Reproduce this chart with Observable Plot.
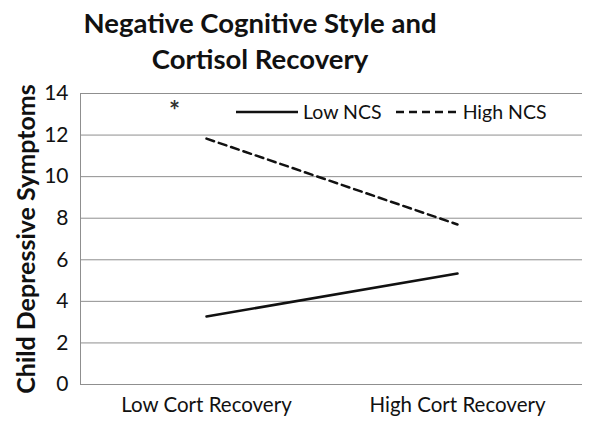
<!DOCTYPE html>
<html>
<head>
<meta charset="utf-8">
<script src="https://cdn.jsdelivr.net/npm/d3@7"></script>
<script src="https://cdn.jsdelivr.net/npm/@observablehq/plot@0.6"></script>
<style>
  body { margin: 0; background: #fff; font-family: Lato, "Open Sans", sans-serif; }
  #wrap { position: relative; width: 600px; height: 425px; }
  #title { position: absolute; left: 0; top: 5px; width: 520px; text-align: center; z-index: 2;
           font-weight: bold; font-size: 27.5px; line-height: 36px; color: #111; }
  #chart { position: absolute; left: 0; top: 70px; z-index: 1; }
  #legend { position: absolute; top: 100px; left: 236px; font-size: 19.5px; color: #111; z-index: 3;
            display: flex; align-items: center; white-space: nowrap; }
  #legend svg { margin-right: 5px; }
</style>
</head>
<body>
<div id="wrap">
  <div id="title">Negative Cognitive Style and<br>Cortisol Recovery</div>
  <div id="chart"></div>
  <div id="legend"></div>
</div>
<script>
const categories = ["Low Cort Recovery", "High Cort Recovery"];
const seriesNames = ["Low NCS", "High NCS"];
const lowNCS = [3.27, 5.34];
const highNCS = [11.83, 7.70];
const yTicks = [0, 2, 4, 6, 8, 10, 12, 14];
const yLabel = "Child Depressive Symptoms";
const annotations = [{category: "Low Cort Recovery", value: 13.35, text: "*"}];

const rows = [
  ...categories.map((c, i) => ({category: c, value: lowNCS[i], series: seriesNames[0]})),
  ...categories.map((c, i) => ({category: c, value: highNCS[i], series: seriesNames[1]}))
];
const dashes = {"Low NCS": null, "High NCS": "8,5"};

const chart = Plot.plot({
  width: 600,
  height: 355,
  marginTop: 23,
  marginBottom: 41,
  marginLeft: 80,
  marginRight: 18,
  style: {fontFamily: "Lato, 'Open Sans', sans-serif", color: "#111", background: "transparent"},
  x: {type: "point", domain: categories, padding: 0.5, label: null},
  y: {domain: [0, 14], label: null},
  marks: [
    Plot.gridY(yTicks, {stroke: "#8f8f8f", strokeOpacity: 1, strokeWidth: 1}),
    Plot.frame({anchor: "left", stroke: "#8f8f8f"}),
    Plot.axisY({ticks: yTicks, tickSize: 0, tickPadding: 12, fontSize: 21, label: null}),
    Plot.axisX({tickSize: 0, tickPadding: 13, fontSize: 20.5, label: null}),
    Plot.text([yLabel], {frameAnchor: "left", rotate: -90, dx: -54, fontSize: 25, fontWeight: "bold", textAnchor: "middle"}),
    ...seriesNames.map(s => Plot.line(rows.filter(d => d.series === s), {
      x: "category", y: "value", stroke: "#111", strokeWidth: 2.5,
      strokeDasharray: dashes[s]
    })),
    Plot.text(annotations, {x: "category", y: "value", text: "text", dx: -32, dy: 5, fontSize: 26, fontWeight: "bold", fill: "#333"})
  ]
});
document.getElementById("chart").appendChild(chart);

const legend = document.getElementById("legend");
seriesNames.forEach((s, i) => {
  const item = document.createElement("span");
  item.style.display = "flex";
  item.style.alignItems = "center";
  item.style.marginRight = i === 0 ? "14px" : "0";
  const dash = dashes[s] ? ` stroke-dasharray="${dashes[s]}"` : "";
  item.innerHTML = `<svg width="62" height="10"><line x1="0" y1="5" x2="62" y2="5" stroke="#111" stroke-width="2.5"${dash}/></svg>${s}`;
  legend.appendChild(item);
});
</script>
</body>
</html>
